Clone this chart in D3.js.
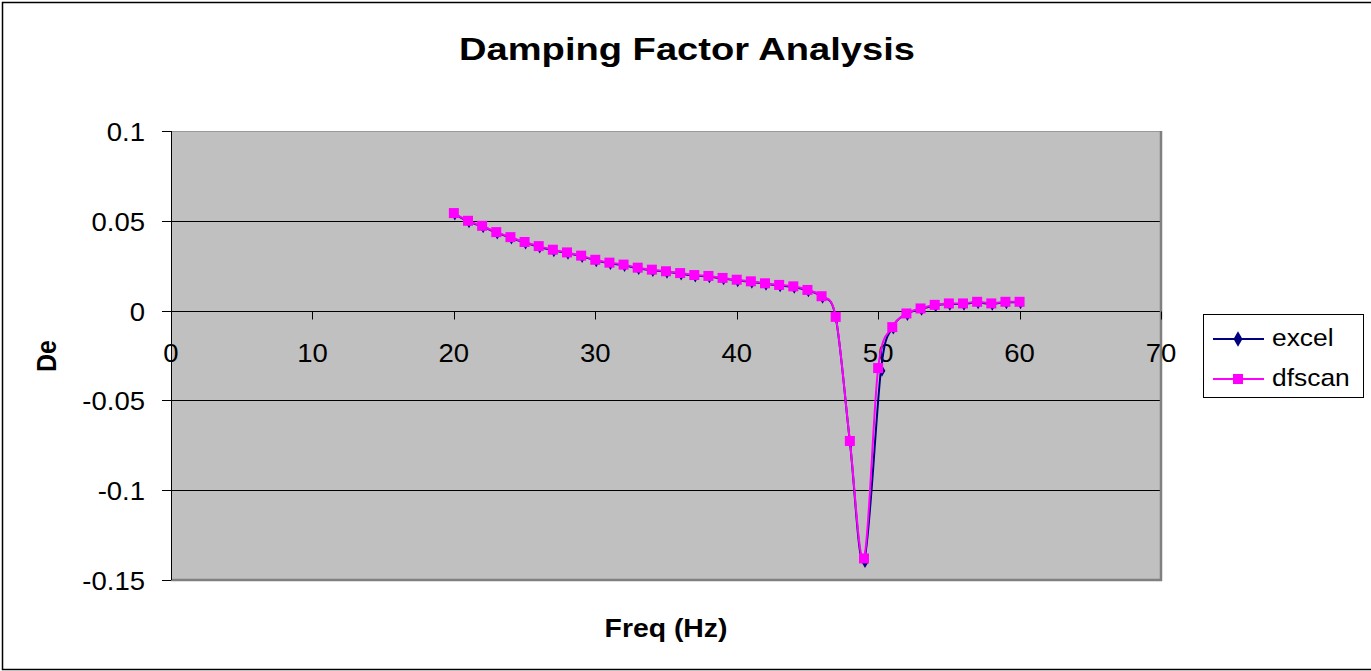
<!DOCTYPE html>
<html><head><meta charset="utf-8">
<script src="https://cdn.jsdelivr.net/npm/d3@7"></script>
<style>body{margin:0;background:#fff;}svg{display:block;font-family:"Liberation Sans",Arial,sans-serif;}</style>
</head><body>
<svg id="c" width="1371" height="671"></svg>
<script>
const title = "Damping Factor Analysis";
const xLabel = "Freq (Hz)";
const yLabel = "De";
const seriesNames = ["excel", "dfscan"];
const freq = [20,21,22,23,24,25,26,27,28,29,30,31,32,33,34,35,36,37,38,39,40,41,42,43,44,45,46,47,48,49,50,51,52,53,54,55,56,57,58,59,60];
const excelFreq = [20,21,22,23,24,25,26,27,28,29,30,31,32,33,34,35,36,37,38,39,40,41,42,43,44,45,46,47,48,49,50.2,51,52,53,54,55,56,57,58,59,60];
const dfscan = [0.0543,0.0500,0.0472,0.0437,0.0409,0.0382,0.0359,0.0339,0.0324,0.0306,0.0283,0.0267,0.0256,0.0239,0.0228,0.0219,0.0209,0.0198,0.0193,0.0182,0.0172,0.0163,0.0152,0.0143,0.0135,0.0115,0.0080,-0.0035,-0.0726,-0.1380,-0.0320,-0.0092,-0.0016,0.0012,0.0032,0.0040,0.0040,0.0049,0.0040,0.0049,0.0049];
const excel = [0.0540,0.0497,0.0469,0.0434,0.0406,0.0379,0.0356,0.0336,0.0321,0.0303,0.0280,0.0264,0.0253,0.0236,0.0225,0.0216,0.0206,0.0195,0.0190,0.0179,0.0169,0.0160,0.0149,0.0140,0.0132,0.0112,0.0077,-0.0038,-0.0729,-0.1395,-0.0330,-0.0095,-0.0019,0.0009,0.0029,0.0037,0.0037,0.0046,0.0037,0.0046,0.0046];
const xTicks = [0,10,20,30,40,50,60,70];
const yTicks = [0.1,0.05,0,-0.05,-0.1,-0.15];
const yTickLabels = ["0.1","0.05","0","-0.05","-0.1","-0.15"];

const svg = d3.select("#c");
const L = 171, R = 1161, T = 131, B = 580;
const x = d3.scaleLinear().domain([0,70]).range([L,R]);
const y = d3.scaleLinear().domain([-0.15,0.1]).range([B,T]);
const SX = 1.1;

// outer border
svg.append("rect").attr("x",2.5).attr("y",2.5).attr("width",1380).attr("height",667)
  .attr("fill","#fff").attr("stroke","#000").attr("stroke-width",1.5);

// plot area
svg.append("rect").attr("x",L).attr("y",T).attr("width",R-L).attr("height",B-T).attr("fill","#c0c0c0");
// gridlines
svg.append("g").selectAll("line").data(yTicks.filter(v=>v<0.1 && v>-0.15)).join("line")
  .attr("x1",L).attr("x2",R).attr("y1",d=>Math.round(y(d))+0.5).attr("y2",d=>Math.round(y(d))+0.5)
  .attr("stroke","#000").attr("stroke-width",1);
// plot border (gray)
svg.append("line").attr("x1",L).attr("x2",R).attr("y1",T+0.5).attr("y2",T+0.5).attr("stroke","#999").attr("stroke-width",1);
svg.append("line").attr("x1",R).attr("x2",R).attr("y1",T).attr("y2",B+1).attr("stroke","#808080").attr("stroke-width",2.5);
svg.append("line").attr("x1",L).attr("x2",R+1).attr("y1",B).attr("y2",B).attr("stroke","#808080").attr("stroke-width",2.5);

// y axis
svg.append("line").attr("x1",L+0.5).attr("x2",L+0.5).attr("y1",T).attr("y2",B).attr("stroke","#000").attr("stroke-width",1);
const yAx = svg.append("g");
yAx.selectAll("line").data(yTicks).join("line")
  .attr("x1",L-9).attr("x2",L).attr("y1",d=>Math.round(y(d))+0.5).attr("y2",d=>Math.round(y(d))+0.5)
  .attr("stroke","#000");
yAx.selectAll("text").data(yTicks).join("text")
  .attr("transform",d=>`translate(145,${y(d)}) scale(${SX},1)`)
  .attr("dy","0.4em").attr("text-anchor","end").attr("font-size",25)
  .text((d,i)=>yTickLabels[i]);

// x axis (at zero)
const y0 = Math.round(y(0))+0.5;
const xAx = svg.append("g");
xAx.selectAll("line").data(xTicks).join("line")
  .attr("x1",d=>Math.round(x(d))+0.5).attr("x2",d=>Math.round(x(d))+0.5).attr("y1",y0).attr("y2",y0+8)
  .attr("stroke","#000");
xAx.selectAll("text").data(xTicks).join("text")
  .attr("transform",d=>`translate(${x(d)},${y0+50}) scale(${SX},1)`)
  .attr("text-anchor","middle").attr("font-size",25)
  .text(d=>d);

// series
const line = d3.line().curve(d3.curveCardinal.tension(0));
const excelPts = excelFreq.map((f,i)=>[x(f),y(excel[i])]);
const dfPts = freq.map((f,i)=>[x(f),y(dfscan[i])]);
svg.append("path").attr("d",line(excelPts)).attr("fill","none").attr("stroke","#000080").attr("stroke-width",2);
const diamond = d3.symbol().type(d3.symbolDiamond).size(40);
svg.append("g").selectAll("path").data(excelPts).join("path")
  .attr("d",diamond()).attr("transform",d=>`translate(${d[0]+1},${d[1]+1})`).attr("fill","#000080");
svg.append("path").attr("d",line(dfPts)).attr("fill","none").attr("stroke","#ff00ff").attr("stroke-width",2);
svg.append("g").selectAll("rect").data(dfPts).join("rect")
  .attr("x",d=>d[0]-5).attr("y",d=>d[1]-5).attr("width",10).attr("height",10).attr("fill","#ff00ff");

// title & axis labels
svg.append("text").attr("transform","translate(687,60) scale(1.21,1)").attr("text-anchor","middle")
  .attr("font-size",31.5).attr("font-weight","bold").text(title);
svg.append("text").attr("transform","translate(666,637) scale(1.07,1)").attr("text-anchor","middle")
  .attr("font-size",26.5).attr("font-weight","bold").text(xLabel);
svg.append("text").attr("transform","translate(56,356) scale(1.1,1) rotate(-90)").attr("text-anchor","middle")
  .attr("font-size",25).attr("font-weight","bold").text(yLabel);

// legend
const lg = svg.append("g");
lg.append("rect").attr("x",1203.5).attr("y",314.5).attr("width",160).attr("height",83).attr("fill","#fff").attr("stroke","#000");
const ly = [339,379];
const colors = ["#000080","#ff00ff"];
seriesNames.forEach((n,i)=>{
  lg.append("line").attr("x1",1213).attr("x2",1264).attr("y1",ly[i]).attr("y2",ly[i]).attr("stroke",colors[i]).attr("stroke-width",2);
  if(i===0) lg.append("path").attr("d",d3.symbol().type(d3.symbolDiamond).size(70)()).attr("transform",`translate(1238,${ly[i]})`).attr("fill",colors[i]);
  else lg.append("rect").attr("x",1233).attr("y",ly[i]-5).attr("width",10).attr("height",10).attr("fill",colors[i]);
  lg.append("text").attr("transform",`translate(1272,${ly[i]+7}) scale(${SX},1)`).attr("font-size",24).text(n);
});
</script>
</body></html>
